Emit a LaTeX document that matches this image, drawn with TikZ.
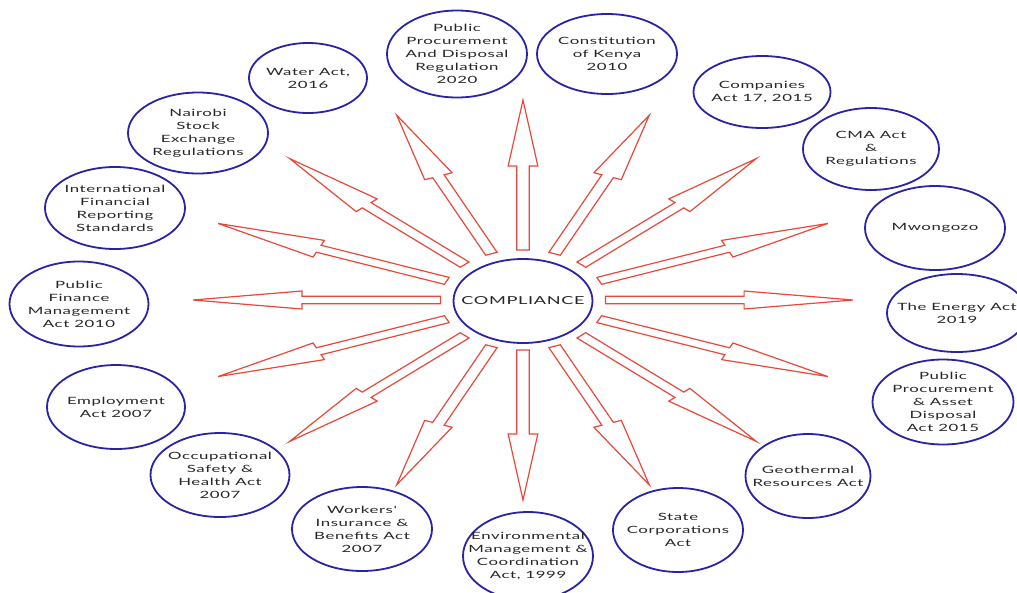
\documentclass[tikz,border=0pt]{standalone}
\usepackage{fontspec}
\setmainfont{Lato}[FakeStretch=1.65,LetterSpace=6]
\newfontfamily\lawfont{Lato}[FakeStretch=1.68,LetterSpace=6]
\usepackage{tikz}
\usetikzlibrary{shapes.geometric}
\definecolor{lawblue}{RGB}{40,36,165}
\definecolor{rayred}{RGB}{232,72,58}
\tikzset{
  law/.style={ellipse,draw=lawblue,line width=1.8pt,minimum width=139pt,minimum height=84pt,
    inner xsep=-30pt,inner ysep=-10pt,align=center,text=black!85,font=\lawfont\fontsize{10}{13}\selectfont},
  sunray/.style={draw=rayred,line width=1.2pt,line join=miter}
}

\begin{document}
\begin{tikzpicture}[x=1pt,y=-1pt]
    \useasboundingbox (0,0) rectangle (1017,592);
    % i raggi intorno al centro
    \begin{scope}[shift={(523,300)},xscale=1.65]
      \foreach \a in {0,22.5,...,337.5}
        \draw[sunray,rotate=\a](50,-3.75)--(134,-3.75)--(134,-9)--(200,0)--(134,9)--(134,3.75)--(50,3.75)--cycle;
    \end{scope}
    \node[law,font=\rmfamily\fontsize{11}{13}\selectfont] (comp) at (523,301) {COMPLIANCE};
    \node[law,minimum width=118pt,minimum height=70pt] (water) at (308,78) {Water Act,\\ 2016};
    \node[law,minimum width=140pt,minimum height=87pt] (ppdr) at (457,54) {Public\\ Procurement\\ And Disposal\\ Regulation\\ 2020};
    \node[law,minimum width=140pt,minimum height=80pt] (const) at (607,54) {Constitution\\ of Kenya\\ 2010};
    \node[law,minimum width=137pt,minimum height=72pt] (companies) at (762,92) {Companies\\ Act 17, 2015};
    \node[law,minimum width=136pt,minimum height=82pt] (cma) at (871,149) {CMA Act\\ \&\\ Regulations};
    \node[law,minimum width=140pt] (mwongozo) at (935,228) {Mwongozo};
    \node[law,minimum width=140pt,minimum height=78pt] (energy) at (957,313) {The Energy Act\\ 2019};
    \node[law,minimum width=141pt,minimum height=85pt] (ppada) at (943,402) {Public\\ Procurement\\ \& Asset\\ Disposal\\ Act 2015};
    \node[law,minimum width=125pt] (geo) at (808,476) {Geothermal\\ Resources Act};
    \node[law,minimum width=130pt] (statecorp) at (678,530) {State\\ Corporations\\ Act};
    \node[law,minimum width=130pt,minimum height=88pt] (emca) at (528,556) {Environmental\\ Management \&\\ Coordination\\ Act, 1999};
    \node[law,minimum width=140pt] (workers) at (362,529) {Workers'\\ Insurance \&\\ Benefits Act\\ 2007};
    \node[law] (osha) at (220,475) {Occupational\\ Safety \&\\ Health Act\\ 2007};
    \node[law,minimum width=138pt] (employ) at (116,407) {Employment\\ Act 2007};
    \node[law,minimum height=85pt] (pfm) at (79,304) {Public\\ Finance\\ Management\\ Act 2010};
    \node[law,minimum width=140pt,minimum height=82pt] (ifrs) at (115,208) {International\\ Financial\\ Reporting\\ Standards};
    \node[law,minimum width=140pt,minimum height=81pt] (nse) at (198,133) {Nairobi\\ Stock\\ Exchange\\ Regulations};
\end{tikzpicture}
\end{document}
